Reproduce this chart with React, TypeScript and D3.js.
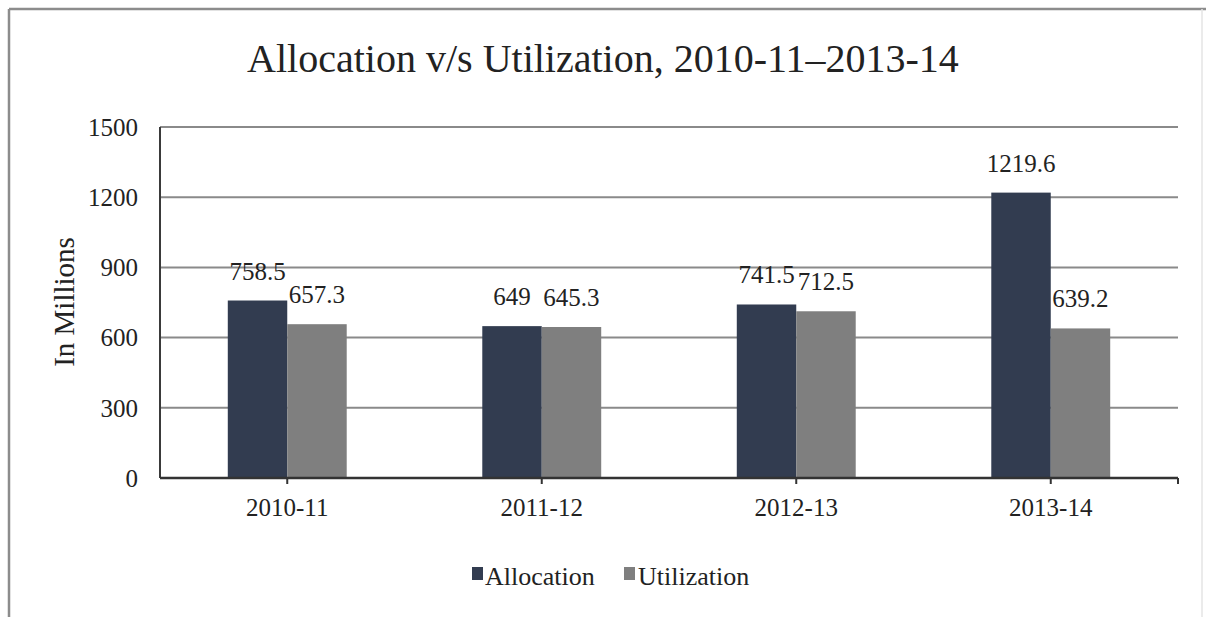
import React from "react";
import * as d3 from "d3";

const categories = ["2010-11", "2011-12", "2012-13", "2013-14"];
const seriesNames = ["Allocation", "Utilization"];
const allocation = [758.5, 649, 741.5, 1219.6];
const utilization = [657.3, 645.3, 712.5, 639.2];
const yTicks = [0, 300, 600, 900, 1200, 1500];

const colors: Record<string, string> = {
    Allocation: "#323c50",
    Utilization: "#7f7f7f",
};

const W = 1206;
const H = 617;
const plot = {left: 160, right: 1178, top: 127, bottom: 478};
const font = "'Liberation Serif', 'Times New Roman', serif";

export default function App() {
    const x0 = d3.scaleBand<string>().domain(categories).range([plot.left, plot.right]).padding(0);
    const x1 = d3
        .scaleBand<string>()
        .domain(seriesNames)
        .range([0, x0.bandwidth()])
        .paddingInner(0)
        .paddingOuter(1.14);
    const y = d3.scaleLinear().domain([0, 1500]).range([plot.bottom, plot.top]);

    const rows = categories.map((c, i) => ({
        cat: c,
        values: [
            {name: "Allocation", value: allocation[i]},
            {name: "Utilization", value: utilization[i]},
        ],
    }));

    const fmt = (v: number) => String(v);

    return (
        <svg width={W} height={H} style={{position: "absolute", left: 0, top: 0, background: "#fff"}}>
            {/* frame */}
            <line x1={9} x2={W} y1={9} y2={9} stroke="#8c8c8c" strokeWidth={2.5}/>
            <line x1={9} x2={9} y1={9} y2={H} stroke="#8c8c8c" strokeWidth={2.5}/>
            <line x1={1202} x2={1202} y1={9} y2={H} stroke="#e4e4e4" strokeWidth={1.5}/>

            <text x={603} y={72} textAnchor="middle" fontFamily={font} fontSize={40} fill="#222">
                Allocation v/s Utilization, 2010-11–2013-14
            </text>

            {/* grid */}
            {yTicks.filter(t => t > 0).map(t => (
                <line key={t} x1={plot.left} x2={plot.right} y1={y(t)} y2={y(t)} stroke="#8a8a8a" strokeWidth={2}/>
            ))}
            {yTicks.map(t => (
                <text key={t} x={plot.left - 22} y={y(t)} dy="0.35em" textAnchor="end"
                      fontFamily={font} fontSize={25} fill="#222">{t}</text>
            ))}

            <text transform={`translate(74,302) rotate(-90)`} textAnchor="middle" fontFamily={font}
                  fontSize={29} fill="#222">In Millions</text>

            {/* bars */}
            {rows.map(r => (
                <g key={r.cat} transform={`translate(${x0(r.cat)},0)`}>
                    {r.values.map(v => (
                        <rect key={v.name} x={x1(v.name)} y={y(v.value)} width={x1.bandwidth()}
                              height={y(0) - y(v.value)} fill={colors[v.name]}/>
                    ))}
                    {r.values.map(v => (
                        <text key={v.name + "l"} x={(x1(v.name) ?? 0) + x1.bandwidth() / 2} y={y(v.value) - 21}
                              textAnchor="middle" fontFamily={font} fontSize={25} fill="#222">
                            {fmt(v.value)}
                        </text>
                    ))}
                </g>
            ))}

            {/* axes */}
            <line x1={plot.left} x2={plot.left} y1={plot.top} y2={plot.bottom} stroke="#3a3a3a" strokeWidth={2}/>
            <line x1={plot.left} x2={plot.right} y1={plot.bottom} y2={plot.bottom} stroke="#333" strokeWidth={2.5}/>
            {categories.map(c => (
                <line key={c} x1={(x0(c) ?? 0) + x0.bandwidth() / 2} x2={(x0(c) ?? 0) + x0.bandwidth() / 2}
                      y1={plot.bottom} y2={plot.bottom + 6} stroke="#333" strokeWidth={2}/>
            ))}
            <line x1={plot.right} x2={plot.right} y1={plot.bottom} y2={plot.bottom + 6} stroke="#333" strokeWidth={2}/>
            {categories.map(c => (
                <text key={c} x={(x0(c) ?? 0) + x0.bandwidth() / 2} y={516} textAnchor="middle"
                      fontFamily={font} fontSize={25} fill="#222">{c}</text>
            ))}

            {/* legend */}
            <g>
                <rect x={472} y={567} width={11} height={13} fill={colors.Allocation}/>
                <text x={485} y={585} fontFamily={font} fontSize={26} fill="#222">Allocation</text>
                <rect x={624} y={567} width={11} height={13} fill={colors.Utilization}/>
                <text x={638} y={585} fontFamily={font} fontSize={26} fill="#222">Utilization</text>
            </g>
        </svg>
    );
}
